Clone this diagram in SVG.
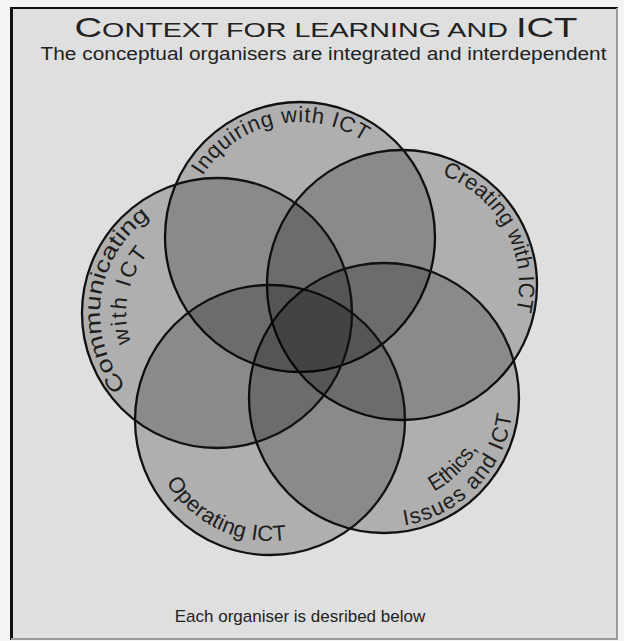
<svg xmlns="http://www.w3.org/2000/svg" width="624" height="641" viewBox="0 0 624 641">
<style>
.bg{fill:#f4f4f4}
.panel{fill:#dfdfdf}
.ring{fill:#000;fill-opacity:0.21;stroke:#111;stroke-width:2.3}
.lbl{font-family:"Liberation Sans",Arial,sans-serif;font-size:22px;fill:#1e1e1e}
.txt{font-family:"Liberation Sans",Arial,sans-serif;fill:#222}
</style>
<defs>
<path id="p-inq" d="M202.5 176.1 A115 115 0 0 1 367.6 144.0"/>
<path id="p-cre" d="M442.0 175.1 A117 117 0 0 1 515.5 313.3"/>
<path id="p-com1" d="M126.1 386.6 A117 117 0 0 1 155.0 213.8"/>
<path id="p-com2" d="M131.0 342.6 A91 91 0 0 1 149.4 252.1"/>
<path id="p-eth1" d="M433.8 491.6 A106 106 0 0 0 477.6 447.8"/>
<path id="p-eth2" d="M404.2 525.4 A129 129 0 0 0 512.3 411.5"/>
<path id="p-ope" d="M166.3 482.3 A121 121 0 0 0 288.9 539.5"/>
</defs>
<rect class="bg" x="0" y="0" width="624" height="641"/>
<g id="frame">
<rect class="panel" x="11" y="8" width="606" height="631"/>
<line x1="10" y1="8" x2="618" y2="8" stroke="#111" stroke-width="2"/>
<line x1="11.5" y1="7" x2="11.5" y2="640" stroke="#111" stroke-width="3"/>
<line x1="617" y1="8" x2="617" y2="640" stroke="#9a9a9a" stroke-width="2"/>
<line x1="11" y1="639" x2="618" y2="639" stroke="#9a9a9a" stroke-width="2"/>
</g>
<g id="title">
<text class="txt" x="326" y="37" text-anchor="middle" textLength="503" lengthAdjust="spacingAndGlyphs"><tspan font-size="28">C</tspan><tspan font-size="21">ONTEXT FOR LEARNING AND </tspan><tspan font-size="28">ICT</tspan></text>
<text class="txt" x="323.5" y="60" font-size="17.5" text-anchor="middle" textLength="566" lengthAdjust="spacingAndGlyphs">The conceptual organisers are integrated and interdependent</text>
</g>
<g id="inquiring">
<circle class="ring" cx="300" cy="237" r="135"/>
<text class="lbl"><textPath href="#p-inq" textLength="184" lengthAdjust="spacing">Inquiring with ICT</textPath></text>
</g>
<g id="creating">
<circle class="ring" cx="402" cy="285" r="135"/>
<text class="lbl"><textPath href="#p-cre" textLength="169" lengthAdjust="spacingAndGlyphs">Creating with ICT</textPath></text>
</g>
<g id="ethics">
<circle class="ring" cx="384" cy="398" r="135"/>
<text class="lbl"><textPath href="#p-eth1" textLength="62" lengthAdjust="spacingAndGlyphs">Ethics,</textPath></text>
<text class="lbl"><textPath href="#p-eth2" textLength="165" lengthAdjust="spacing">Issues and ICT</textPath></text>
</g>
<g id="operating">
<circle class="ring" cx="270" cy="420" r="135"/>
<text class="lbl"><textPath href="#p-ope" textLength="141" lengthAdjust="spacing">Operating ICT</textPath></text>
</g>
<g id="communicating">
<circle class="ring" cx="217" cy="313" r="135"/>
<text class="lbl"><textPath href="#p-com1" textLength="192" lengthAdjust="spacingAndGlyphs">Communicating</textPath></text>
<text class="lbl"><textPath href="#p-com2" textLength="95" lengthAdjust="spacing">with ICT</textPath></text>
</g>
<g id="footer">
<text class="txt" x="300" y="622" font-size="17" text-anchor="middle">Each organiser is desribed below</text>
</g>
</svg>
